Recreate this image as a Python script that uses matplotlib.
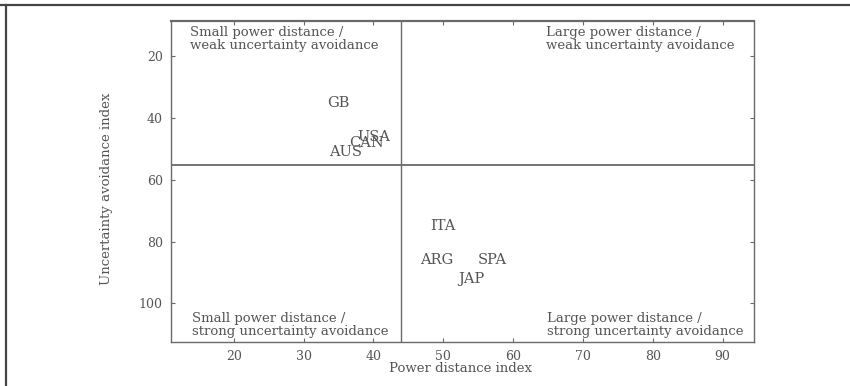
import matplotlib
matplotlib.use("Agg")
import matplotlib.pyplot as plt
from matplotlib.lines import Line2D

# Hofstede scores: power distance (x) vs uncertainty avoidance (y)
countries = ["GB", "USA", "CAN", "AUS", "ITA", "ARG", "SPA", "JAP"]
power_distance = [35, 40, 39, 36, 50, 49, 57, 54]
uncertainty_avoidance = [35, 46, 48, 51, 75, 86, 86, 92]

pdi_split = 44
uai_split = 55

x_ticks = [20, 30, 40, 50, 60, 70, 80, 90]
y_ticks = [20, 40, 60, 80, 100]

quadrant_texts = [
    "Small power distance /\nweak uncertainty avoidance",
    "Large power distance /\nweak uncertainty avoidance",
    "Small power distance /\nstrong uncertainty avoidance",
    "Large power distance /\nstrong uncertainty avoidance",
]

ink = "#555555"
line_col = "#6a6a6a"
plt.rcParams["font.family"] = ["DejaVu Serif"]

fig = plt.figure(figsize=(8.5, 3.86), dpi=100)
ax = fig.add_axes([171 / 850, 1 - 342 / 386, 583 / 850, 321 / 386])

ax.set_xlim(11, 94.5)
ax.set_ylim(112.5, 8.5)

ax.axvline(pdi_split, color=line_col, lw=1.0)
ax.axhline(uai_split, color=line_col, lw=1.3)

# labels sit on the data points; USA/CAN/AUS crowd each other as in the source
for name, px, uy in zip(countries, power_distance, uncertainty_avoidance):
    ax.text(px, uy, name, ha="center", va="center", fontsize=10.5, color=ink)

# quadrant captions (axes fraction positions)
spots = [(0.033, 0.985, "top"), (0.643, 0.985, "top"),
         (0.036, 0.014, "bottom"), (0.645, 0.014, "bottom")]
for txt, (fx, fy, va) in zip(quadrant_texts, spots):
    ax.text(fx, fy, txt, transform=ax.transAxes, ha="left", va=va,
            fontsize=9.5, color=ink, linespacing=1.0)

ax.set_xticks(x_ticks)
ax.set_yticks(y_ticks)
ax.tick_params(direction="in", length=3, width=0.8, colors=line_col,
               labelcolor=ink, labelsize=9, right=True, top=True)
ax.tick_params(axis="y", pad=6)
ax.tick_params(axis="x", pad=6)

for s in ax.spines.values():
    s.set_color(line_col)
    s.set_linewidth(1.0)
ax.spines["top"].set_linewidth(1.6)

ax.set_xlabel("Power distance index", fontsize=9.5, color=ink)
ax.set_ylabel("Uncertainty avoidance index", fontsize=9.5, color=ink)
ax.xaxis.set_label_coords(0.497, -0.062)
ax.yaxis.set_label_coords(-0.099, 0.477)

# page frame from the scan: top and left edges
fig.add_artist(Line2D([0, 1], [1 - 5 / 386, 1 - 5 / 386], color="#444444", lw=1.6))
fig.add_artist(Line2D([6 / 850, 6 / 850], [0, 1 - 5 / 386], color="#444444", lw=1.6))

fig.savefig("out.png", dpi=100)
